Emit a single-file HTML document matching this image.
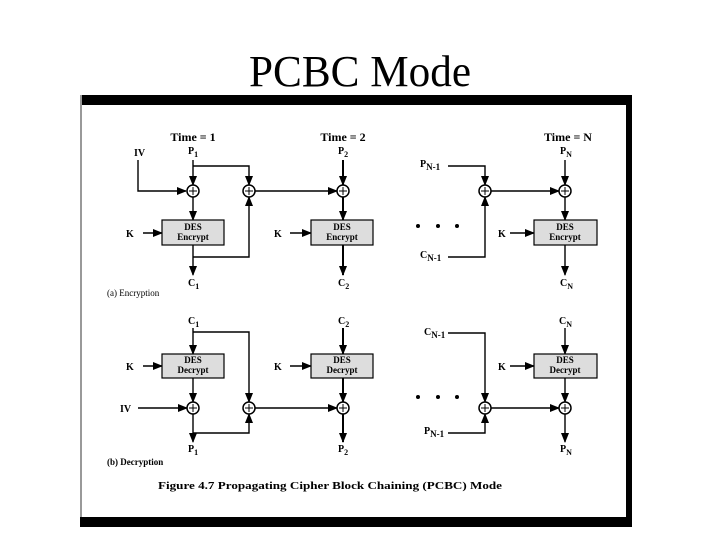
<!DOCTYPE html>
<html><head><style>
body{margin:0;background:#fff;width:720px;height:540px;overflow:hidden}
svg{display:block}
text{font-family:"Liberation Serif",serif;fill:#000}
.b{font-weight:bold}
</style></head><body>
<svg width="720" height="540" viewBox="0 0 720 540">
<defs>
<marker id="a" markerWidth="10" markerHeight="10" refX="9" refY="5" orient="auto" markerUnits="userSpaceOnUse">
<path d="M0,1 L10,5 L0,9 z" fill="#000"/></marker>
</defs>
<text x="360" y="86" font-size="44" text-anchor="middle" textLength="222" lengthAdjust="spacingAndGlyphs">PCBC Mode</text>
<rect x="80" y="95" width="552" height="10" fill="#000"/>
<rect x="80" y="95" width="2" height="430" fill="#999"/>
<rect x="626" y="95" width="6" height="432" fill="#000"/>
<rect x="80" y="517" width="552" height="10" fill="#000"/>

<g stroke="#000" stroke-width="1.4" fill="none">
<path d="M138,160 V191 H186" marker-end="url(#a)"/>
<path d="M193,160 V185" marker-end="url(#a)"/>
<path d="M193,166 H249 V185" marker-end="url(#a)"/>
<path d="M193,197 V220" marker-end="url(#a)"/>
<path d="M143,233 H162" marker-end="url(#a)"/>
<path d="M193,245 V275" marker-end="url(#a)"/>
<path d="M193,257 H249 V197" marker-end="url(#a)"/>
<path d="M255,191 H337" marker-end="url(#a)"/>
<path d="M343,160 V185" stroke-width="2" marker-end="url(#a)"/>
<path d="M343,197 V220" stroke-width="2" marker-end="url(#a)"/>
<path d="M290,233 H311" marker-end="url(#a)"/>
<path d="M343,245 V275" stroke-width="2" marker-end="url(#a)"/>
<path d="M448,166 H485 V185" marker-end="url(#a)"/>
<path d="M448,257 H485 V197" marker-end="url(#a)"/>
<path d="M491,191 H559" marker-end="url(#a)"/>
<path d="M565,160 V185" marker-end="url(#a)"/>
<path d="M565,197 V220" marker-end="url(#a)"/>
<path d="M510,233 H534" marker-end="url(#a)"/>
<path d="M565,245 V275" marker-end="url(#a)"/>
<path d="M193,328 V354" marker-end="url(#a)"/>
<path d="M193,332 H249 V402" marker-end="url(#a)"/>
<path d="M143,366 H162" marker-end="url(#a)"/>
<path d="M193,378 V402" marker-end="url(#a)"/>
<path d="M138,408 H187" marker-end="url(#a)"/>
<path d="M193,414 V442" marker-end="url(#a)"/>
<path d="M193,433 H249 V414" marker-end="url(#a)"/>
<path d="M255,408 H337" marker-end="url(#a)"/>
<path d="M343,328 V354" stroke-width="2" marker-end="url(#a)"/>
<path d="M290,366 H311" marker-end="url(#a)"/>
<path d="M343,378 V402" stroke-width="2" marker-end="url(#a)"/>
<path d="M343,414 V442" stroke-width="2" marker-end="url(#a)"/>
<path d="M448,333 H485 V402" marker-end="url(#a)"/>
<path d="M448,433 H485 V414" marker-end="url(#a)"/>
<path d="M491,408 H559" marker-end="url(#a)"/>
<path d="M565,328 V354" marker-end="url(#a)"/>
<path d="M510,366 H534" marker-end="url(#a)"/>
<path d="M565,378 V402" marker-end="url(#a)"/>
<path d="M565,414 V442" marker-end="url(#a)"/>
</g>

<g fill="#ddd" stroke="#000" stroke-width="1.2">
<rect x="162" y="220" width="62" height="25"/><rect x="311" y="220" width="62" height="25"/><rect x="534" y="220" width="63" height="25"/>
<rect x="162" y="354" width="62" height="24"/><rect x="311" y="354" width="62" height="24"/><rect x="534" y="354" width="63" height="24"/>
</g>
<g fill="#fff" stroke="#000" stroke-width="1.5">
<circle cx="193" cy="191" r="6"/><circle cx="249" cy="191" r="6"/><circle cx="343" cy="191" r="6"/><circle cx="485" cy="191" r="6"/><circle cx="565" cy="191" r="6"/>
<circle cx="193" cy="408" r="6"/><circle cx="249" cy="408" r="6"/><circle cx="343" cy="408" r="6"/><circle cx="485" cy="408" r="6"/><circle cx="565" cy="408" r="6"/>
</g>
<g stroke="#000" stroke-width="1">
<path d="M189,191h8M193,187v8M245,191h8M249,187v8M339,191h8M343,187v8M481,191h8M485,187v8M561,191h8M565,187v8"/>
<path d="M189,408h8M193,404v8M245,408h8M249,404v8M339,408h8M343,404v8M481,408h8M485,404v8M561,408h8M565,404v8"/>
</g>
<g fill="#000"><circle cx="418" cy="226" r="2"/><circle cx="438" cy="226" r="2"/><circle cx="457" cy="226" r="2"/>
<circle cx="418" cy="397" r="2"/><circle cx="438" cy="397" r="2"/><circle cx="457" cy="397" r="2"/></g>

<g class="b" font-size="12" text-anchor="middle">
<text x="193" y="141" class="b">Time = 1</text><text x="343" y="141" class="b">Time = 2</text><text x="568" y="141" class="b">Time = N</text>
</g>
<g font-size="9" font-weight="bold" text-anchor="middle">
<text x="193" y="230">DES</text><text x="193" y="240">Encrypt</text>
<text x="342" y="230">DES</text><text x="342" y="240">Encrypt</text>
<text x="565" y="230">DES</text><text x="565" y="240">Encrypt</text>
<text x="193" y="363">DES</text><text x="193" y="373">Decrypt</text>
<text x="342" y="363">DES</text><text x="342" y="373">Decrypt</text>
<text x="565" y="363">DES</text><text x="565" y="373">Decrypt</text>
</g>
<g font-size="10" font-weight="bold">
<text x="134" y="156">IV</text>
<text x="188" y="154">P<tspan font-size="8" dy="3">1</tspan></text>
<text x="338" y="154">P<tspan font-size="8" dy="3">2</tspan></text>
<text x="560" y="154">P<tspan font-size="8" dy="3">N</tspan></text>
<text x="126" y="237">K</text><text x="274" y="237">K</text><text x="498" y="237">K</text>
<text x="188" y="286">C<tspan font-size="8" dy="3">1</tspan></text>
<text x="338" y="286">C<tspan font-size="8" dy="3">2</tspan></text>
<text x="560" y="286">C<tspan font-size="8" dy="3">N</tspan></text>
<text x="420" y="167">P<tspan font-size="9" dy="3">N-1</tspan></text>
<text x="420" y="258">C<tspan font-size="9" dy="3">N-1</tspan></text>
<text x="188" y="324">C<tspan font-size="8" dy="3">1</tspan></text>
<text x="338" y="324">C<tspan font-size="8" dy="3">2</tspan></text>
<text x="559" y="324">C<tspan font-size="8" dy="3">N</tspan></text>
<text x="126" y="370">K</text><text x="274" y="370">K</text><text x="498" y="370">K</text>
<text x="120" y="412">IV</text>
<text x="188" y="452">P<tspan font-size="8" dy="3">1</tspan></text>
<text x="338" y="452">P<tspan font-size="8" dy="3">2</tspan></text>
<text x="560" y="452">P<tspan font-size="8" dy="3">N</tspan></text>
<text x="424" y="335">C<tspan font-size="9" dy="3">N-1</tspan></text>
<text x="424" y="434">P<tspan font-size="9" dy="3">N-1</tspan></text>
</g>
<text x="107" y="296" font-size="9">(a) Encryption</text>
<text x="107" y="465" font-size="9" font-weight="bold">(b) Decryption</text>
<text x="158" y="489" font-size="10.5" font-weight="bold" textLength="344" lengthAdjust="spacingAndGlyphs">Figure 4.7    Propagating Cipher Block Chaining (PCBC) Mode</text>
</svg>
</body></html>
